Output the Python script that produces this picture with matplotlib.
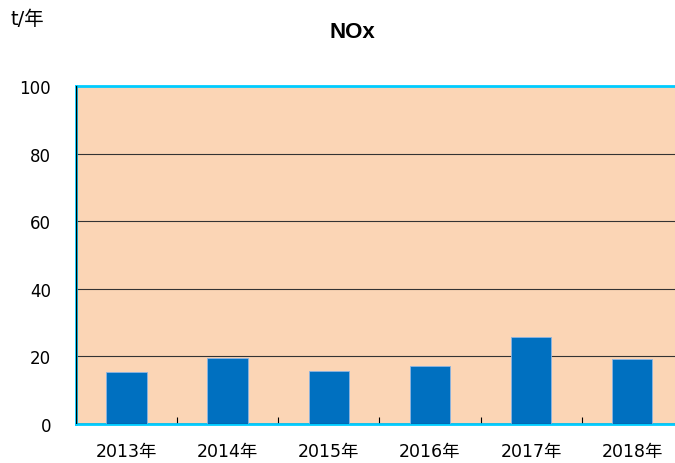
import numpy as np
import matplotlib.pyplot as plt

plt.rcParams['font.family'] = ['DejaVu Sans', 'Noto Sans CJK JP']

years = ['2013年', '2014年', '2015年', '2016年', '2017年', '2018年']
nox = [15.4, 19.5, 15.7, 17.2, 25.7, 19.2]
yticks = [0, 20, 40, 60, 80, 100]

fig = plt.figure(figsize=(6.75, 4.64), dpi=100)
ax = fig.add_axes([0.1126, 0.084, 0.899, 0.728])
ax.set_facecolor('#FBD5B5')

x = np.arange(len(years))
ax.bar(x, nox, width=0.4, color='#0070C0', edgecolor='#8DB4E2', linewidth=0.6, zorder=3)

ax.set_xlim(-0.5, len(years) - 0.5)
ax.set_ylim(0, 100)
ax.set_yticks(yticks)
ax.set_yticklabels([str(v) for v in yticks], fontsize=12)
for v in yticks[1:-1]:
    ax.axhline(v, color='#333333', linewidth=0.8, zorder=1)

# category labels, boundary ticks inside
ax.set_xticks(x)
ax.set_xticklabels(years, fontsize=12.5)
ax.tick_params(axis='x', length=0, pad=13)
ax.set_xticks(np.arange(len(years) - 1) + 0.5, minor=True)
ax.tick_params(axis='x', which='minor', direction='in', length=5, width=0.8, color='black')
ax.tick_params(axis='y', length=0, pad=18)

for s in ['top', 'bottom', 'left', 'right']:
    ax.spines[s].set_color('#00CCFF')
    ax.spines[s].set_linewidth(2)
ax.axvline(-0.5, color='black', linewidth=1, zorder=4)
ax.axhline(0, color='black', linewidth=0.8, zorder=4)

fig.text(0.522, 0.93, 'NOx', ha='center', va='center', fontsize=16,
         fontweight='bold', family=['Liberation Sans', 'DejaVu Sans'])
fig.text(0.015, 0.958, 't/年', ha='left', va='center', fontsize=14)

fig.savefig('out.png', dpi=100)
